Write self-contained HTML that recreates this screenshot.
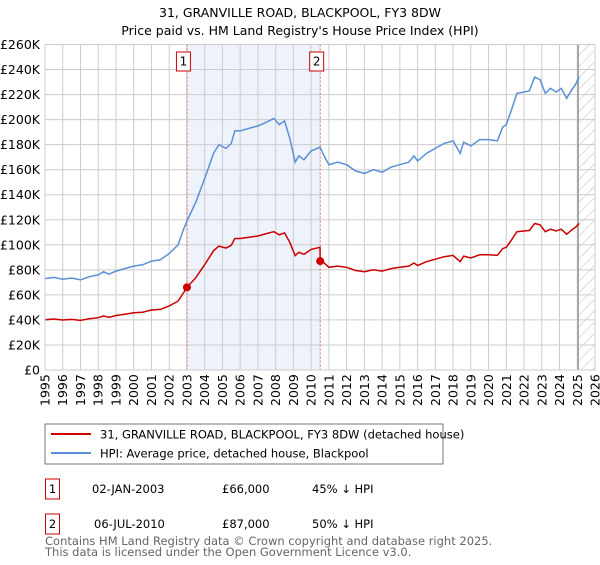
<!DOCTYPE html>
<html><head><meta charset="utf-8"><style>
body{margin:0;background:#fff;font-family:"Liberation Sans","DejaVu Sans",sans-serif;}
svg text{font-family:"DejaVu Sans","Liberation Sans",sans-serif;}
</style></head><body>
<svg id="chart" width="600" height="560" xmlns="http://www.w3.org/2000/svg">
<defs><pattern id="hatch" width="8" height="8" patternUnits="userSpaceOnUse" patternTransform="rotate(45)"><line x1="0" y1="0" x2="0" y2="8" stroke="#bbb" stroke-width="1"/></pattern></defs>
<text x="300" y="17" text-anchor="middle" font-size="12.5" fill="#000">31, GRANVILLE ROAD, BLACKPOOL, FY3 8DW</text>
<text x="300" y="35" text-anchor="middle" font-size="12.5" fill="#000">Price paid vs. HM Land Registry's House Price Index (HPI)</text>
<g id="plot"></g>
<rect x="45" y="424" width="398" height="40" fill="#fff" stroke="#777"/>
<line x1="51" y1="434" x2="91" y2="434" stroke="#cc0000" stroke-width="2"/>
<text x="100" y="438.5" font-size="11.5">31, GRANVILLE ROAD, BLACKPOOL, FY3 8DW (detached house)</text>
<line x1="51" y1="453" x2="91" y2="453" stroke="#5b8fd6" stroke-width="2"/>
<text x="100" y="457.5" font-size="11.5">HPI: Average price, detached house, Blackpool</text>
<g font-size="11.5">
<rect x="45.5" y="479" width="14" height="20" fill="#fff" stroke="#cc0000"/>
<text x="52.5" y="493" text-anchor="middle">1</text>
<text x="92" y="493">02-JAN-2003</text><text x="222" y="493">£66,000</text><text x="312" y="493">45% ↓ HPI</text></g>
<g font-size="11.5">
<rect x="45.5" y="514" width="14" height="20" fill="#fff" stroke="#cc0000"/>
<text x="52.5" y="528" text-anchor="middle">2</text>
<text x="94" y="528">06-JUL-2010</text><text x="222" y="528">£87,000</text><text x="312" y="528">50% ↓ HPI</text></g>
<text x="45" y="545" font-size="11.5" fill="#666">Contains HM Land Registry data © Crown copyright and database right 2025.</text>
<text x="45" y="556" font-size="11.5" fill="#666">This data is licensed under the Open Government Licence v3.0.</text>
</svg>
<script>
const years=[1995.0,1995.5,1996.0,1996.5,1997.0,1997.5,1998.0,1998.3,1998.6,1999.0,1999.5,2000.0,2000.5,2001.0,2001.5,2002.0,2002.5,2002.8,2003.0,2003.5,2004.0,2004.5,2004.8,2005.2,2005.5,2005.7,2006.0,2006.5,2007.0,2007.5,2007.9,2008.2,2008.5,2008.8,2009.1,2009.3,2009.6,2010.0,2010.5,2010.7,2011.0,2011.5,2012.0,2012.5,2013.0,2013.5,2014.0,2014.5,2015.0,2015.5,2015.8,2016.0,2016.5,2017.0,2017.5,2018.0,2018.4,2018.6,2019.0,2019.5,2020.0,2020.5,2020.8,2021.0,2021.3,2021.6,2022.0,2022.3,2022.6,2022.9,2023.2,2023.5,2023.8,2024.1,2024.4,2024.7,2024.9,2025.1];
const hpiVals=[73,74,72.5,73.5,72,74.5,76,78.5,76.5,79,81,83,84,87,88,93,100,112,119,134,153,173,180,177,181,191,191,193,195,198,201,196,199,185,166,171,168,175,178,172,164,166,164,159,157,160,158,162,164,166,171,167,173,177,181,183,173,182,179,184,184,183,194,196,208,221,222,223,234,232,221,225,222,225,217,224,228,234];
const redVals=[40.2,40.7,39.9,40.4,39.6,41,41.8,43.2,42.1,43.5,44.6,45.7,46.2,47.9,48.4,51.2,55,61.6,65.5,73.7,84.2,95.2,99,97.4,99.6,105,105,106,107,109,110.5,108,109.5,102,91.3,94,92.4,96.3,98,86,82,83,82,79.5,78.5,80,79,81,82,83,85.5,83.5,86.5,88.5,90.5,91.5,86.5,91,89.5,92,92,91.5,97,98,104,110.5,111,111.5,117,116,110.5,112.5,111,112.5,108.5,112,114,117];
const saleDates=[2003.0,2010.51];
const salePrices=[66,87];
const saleLabels=["1","2"];
const yTicks=[0,20,40,60,80,100,120,140,160,180,200,220,240,260];
const xTicks=[1995,1996,1997,1998,1999,2000,2001,2002,2003,2004,2005,2006,2007,2008,2009,2010,2011,2012,2013,2014,2015,2016,2017,2018,2019,2020,2021,2022,2023,2024,2025,2026];
const L=45,R=595,T=44.5,B=370,X0=1995,X1=2026,YMAX=260,dataEnd=2025.05;
const X=v=>L+(v-X0)/(X1-X0)*(R-L);
const Y=v=>B-v/YMAX*(B-T);
const NS="http://www.w3.org/2000/svg";
const g=document.getElementById('plot');
function mk(tag,attrs,parent){const e=document.createElementNS(NS,tag);for(const k in attrs)e.setAttribute(k,attrs[k]);(parent||g).appendChild(e);return e;}
let e;
e=mk('rect',{x:X(saleDates[0]),y:T,width:X(saleDates[1])-X(saleDates[0]),height:B-T,fill:'#eef2fb'});


e=mk('rect',{x:X(dataEnd),y:T,width:R-X(dataEnd),height:B-T,fill:'url(#hatch)'});


yTicks.forEach(t=>{
 e=mk('line',{x1:L,x2:R,y1:Y(t),y2:Y(t),stroke:'#ccc','stroke-width':1});
 
 
 e=mk('text',{x:L-5,y:Y(t)+4.5,'text-anchor':'end','font-size':12.5});
 e.textContent=t===0?'£0':'£'+t+'K';
 
 
});
xTicks.forEach(t=>{
 e=mk('line',{x1:X(t),x2:X(t),y1:T,y2:B,stroke:'#ccc','stroke-width':1});
 
 
 e=mk('text',{x:0,y:0,'font-size':12.5,transform:`translate(${X(t)+4.5},${B+36}) rotate(-90)`});
 e.textContent=t;
 
 
});
e=mk('line',{x1:X(dataEnd),x2:X(dataEnd),y1:T,y2:B,stroke:'#999','stroke-width':1.5});


saleDates.forEach((d,i)=>{
 e=mk('line',{x1:X(d),x2:X(d),y1:T,y2:B,stroke:'#e06060','stroke-width':1,'stroke-dasharray':'2,2'});
 
 
});
let hp=years.map((y,i)=>(i?'L':'M')+X(y).toFixed(1)+','+Y(hpiVals[i]).toFixed(1)).join('');
e=mk('path',{d:hp,fill:'none',stroke:'#5b8fd6','stroke-width':1.5});


let pts=years.map((y,i)=>[y,redVals[i]]);
saleDates.forEach((d,i)=>pts.push([d,salePrices[i]]));
pts.sort((a,b)=>a[0]-b[0]);
let rp=pts.map((p,i)=>(i?'L':'M')+X(p[0]).toFixed(1)+','+Y(p[1]).toFixed(1)).join('');
e=mk('path',{d:rp,fill:'none',stroke:'#cc0000','stroke-width':1.5});


saleDates.forEach((d,i)=>{
 e=mk('circle',{cx:X(d),cy:Y(salePrices[i]),r:4,fill:'#cc0000'});
 
 
 e=mk('rect',{x:X(d)-10.5,y:52,width:14,height:19,fill:'#fff',stroke:'#cc0000'});
 
 
 e=mk('text',{x:X(d)-3.5,y:65.5,'text-anchor':'middle','font-size':12});
 e.textContent=saleLabels[i];
 
 
});
e=mk('rect',{x:L,y:T,width:R-L,height:B-T,fill:'none',stroke:'#ccc'});


</script>
</body></html>
